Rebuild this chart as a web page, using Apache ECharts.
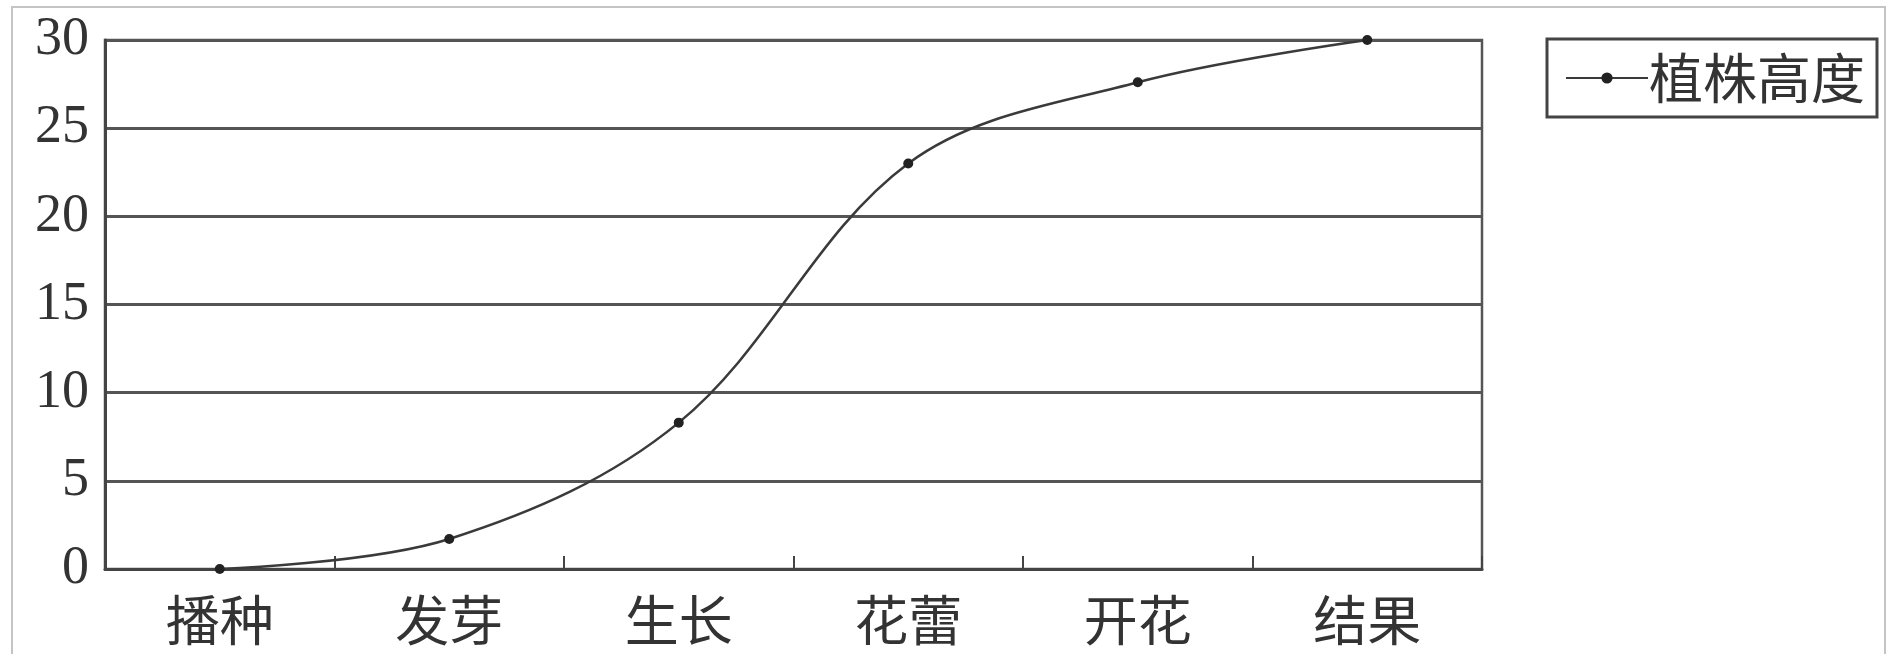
<!DOCTYPE html>
<html>
<head>
<meta charset="utf-8">
<script src="https://cdn.jsdelivr.net/npm/echarts@6/dist/echarts.min.js"></script>
<style>
html,body{margin:0;padding:0;background:#fff;}
#chart{width:1895px;height:654px;}
</style>
</head>
<body>
<div id="chart"></div>
<script>
var categories = ['播种', '发芽', '生长', '花蕾', '开花', '结果'];
var heights = [0, 1.7, 8.3, 23.0, 27.6, 30];
var seriesName = '植株高度';
var yMin = 0, yMax = 30, yStep = 5;

var chart = echarts.init(document.getElementById('chart'));
var serif = '"Liberation Serif", "Noto Sans CJK SC", serif';
var cjk = '"Noto Sans CJK SC", sans-serif';
chart.setOption({
  animation: false,
  backgroundColor: '#fff',
  graphic: [{
    type: 'rect',
    shape: { x: 12, y: 7, width: 1873, height: 700 },
    style: { fill: 'none', stroke: '#c4c4c4', lineWidth: 2 },
    silent: true
  }],
  legend: {
    left: 1547,
    top: 39,
    orient: 'vertical',
    data: [seriesName],
    padding: [10, 12, 10, 18],
    borderColor: '#444',
    borderWidth: 3,
    itemWidth: 82,
    itemHeight: 14,
    textStyle: { fontFamily: cjk, fontSize: 54, color: '#333', lineHeight: 58, padding: [0, 0, 0, -4] }
  },
  grid: {
    left: 105,
    right: 413,
    top: 40,
    bottom: 85,
    show: true,
    borderColor: '#555',
    borderWidth: 2.5,
    backgroundColor: 'transparent'
  },
  xAxis: {
    type: 'category',
    data: categories,
    boundaryGap: true,
    axisLine: { show: true, lineStyle: { color: '#444', width: 3 } },
    axisTick: { show: true, inside: true, length: 13, lineStyle: { color: '#444', width: 2 } },
    axisLabel: { fontFamily: cjk, fontSize: 54, color: '#333', margin: 24 },
    splitLine: { show: false }
  },
  yAxis: {
    type: 'value',
    min: yMin,
    max: yMax,
    interval: yStep,
    axisLine: { show: true, lineStyle: { color: '#444', width: 3 } },
    axisTick: { show: false },
    axisLabel: { fontFamily: serif, fontSize: 54, color: '#333', margin: 16 },
    splitLine: { show: true, lineStyle: { color: '#555', width: 3 } }
  },
  series: [{
    name: seriesName,
    type: 'line',
    data: heights,
    smooth: 0.35,
    symbol: 'circle',
    symbolSize: 10,
    clip: false,
    itemStyle: { color: '#222' },
    lineStyle: { color: '#3a3a3a', width: 2.5 }
  }]
});
</script>
</body>
</html>
